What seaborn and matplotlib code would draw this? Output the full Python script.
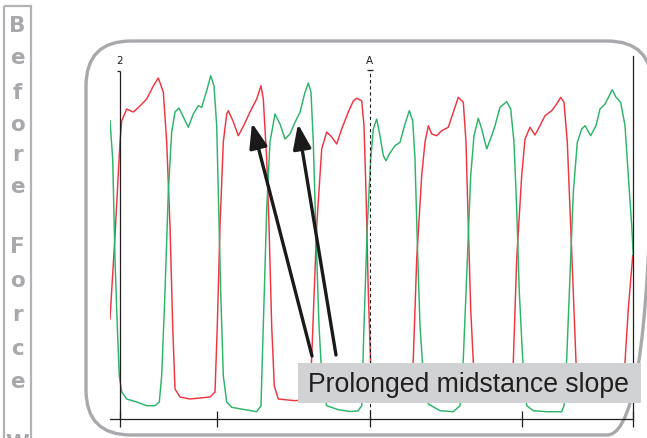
import numpy as np
import pandas as pd
import matplotlib
matplotlib.use("Agg")
import matplotlib.pyplot as plt
from matplotlib.patches import FancyBboxPatch, Rectangle
import seaborn as sns

# ---------------- data ----------------
# time axis positions (pixel-like time units) and vertical level (pixel rows, 420 = baseline)
red_t = [110, 115, 120, 121.7, 126.7, 133.3, 140, 146.7, 153.3, 158.3, 163.3, 166.7, 170, 172.7, 175,
         180, 190, 210, 215, 217.3, 220, 223.3, 226.7, 228.3, 233, 238.3, 244, 250, 256.7, 261, 263.3,
         266.7, 269, 271.7, 274.3, 278.3, 295, 310, 312.3, 316.7, 321.7, 326.7, 331.7, 336.7, 341.7,
         348.3, 353.3, 356.7, 361.7, 364, 366, 368.3, 370.7, 373, 380, 405, 411, 413.3, 416.7, 421.7,
         425, 428.3, 431.7, 436.7, 441.7, 448.3, 453.3, 458.3, 463.3, 466, 468.3, 470.7, 473.3, 476,
         485, 508, 511, 513.3, 516.7, 521.7, 525, 530, 535, 540, 545, 551.7, 556.7, 560.7, 564, 567.3,
         570, 573.3, 576, 579, 590, 620, 623, 625, 628.3, 632.7]
red_row = [320, 237, 143, 122, 110, 113, 107, 100, 87, 79, 93, 143, 227, 327, 390,
           398, 400, 398, 393, 327, 227, 143, 115, 111.7, 122, 136.7, 126, 113, 100, 86.7, 100,
           160, 227, 327, 387, 400, 401.7, 400, 343, 227, 150, 133, 138, 145, 130,
           113, 102, 99.3, 101.7, 126.7, 193, 293, 366.7, 398, 401, 401, 398, 360, 260, 176.7,
           143, 126.7, 135, 136.7, 131.7, 128.3, 113.3, 98.3, 103.3, 143, 226.7, 310, 363, 398,
           401, 401, 396, 363.3, 260, 176.7, 140, 128.3, 136, 126.7, 116.7, 111.7, 105, 98.3, 103.3, 143,
           210, 293, 363, 398, 401, 401, 396, 363, 310, 256.7]

green_t = [110, 112.7, 115, 117.3, 119.3, 121.7, 126.7, 136.7, 146.7, 155, 159.3, 161.7, 165, 168.3,
           171.7, 175, 179, 182.7, 188.3, 193.3, 198.3, 201.7, 206.7, 210.7, 214, 216.7, 218.3, 220.7,
           223.3, 226.7, 231.7, 245, 256.7, 261, 262.3, 264.3, 266.7, 270, 275, 280, 285, 290, 295, 300,
           305, 308.3, 311, 313.3, 315.7, 319, 322.3, 326.7, 338.3, 350, 358, 361.7, 364, 367.3, 370.7,
           373.3, 376.7, 380, 383.3, 386, 389.3, 395, 400, 405, 409.3, 412.7, 415, 417.3, 420, 424,
           428.3, 440, 453.3, 460, 463.3, 466.7, 470.7, 474, 478.3, 481.7, 486.7, 491.7, 495, 500,
           506.7, 510.7, 514, 516.7, 519.3, 522.7, 526.7, 533.3, 546.7, 561.7, 564, 566.7, 570, 573.3,
           577.3, 581.7, 585, 590.7, 596, 600, 605, 609.3, 612.3, 616, 620.7, 625, 628.3, 631.7, 633.3]
green_row = [121.7, 160, 260, 327, 377, 393, 400, 403, 406.7, 406.7, 403, 376.7, 293, 193,
             133, 113, 109, 116.7, 128.3, 115, 106.7, 108.3, 91.7, 76.7, 86.7, 126.7, 193, 293,
             376.7, 403, 408.3, 410.7, 412.7, 406.7, 360, 293, 210, 143, 115, 125, 140, 135, 123.3, 113.3,
             93.3, 84, 93.3, 143, 226.7, 326.7, 386.7, 406.7, 410.7, 412.5, 412, 406.7, 326.7, 226.7, 160,
             130, 120, 136.7, 156.7, 161.7, 155, 146.7, 143.3, 125, 111.7, 121.7, 160, 243.3, 326.7, 386.7,
             405, 411.7, 412.7, 406.7, 360, 276.7, 176.7, 136.7, 119.3, 130, 150, 136.7, 126.7, 108.3,
             102.7, 110, 143.3, 210, 293.3, 360, 406.7, 411.7, 412.7, 412.7, 406.7, 360, 276.7, 193.3,
             143.3, 130, 126.7, 136.7, 126.7, 110, 105, 96.7, 90.7, 98.3, 103.3, 126.7, 176.7, 226.7, 256.7]

tick_positions = [120, 217, 370, 522, 633]
marker_A = 370
channel_label = "2"
marker_label = "A"
annotation_text = "Prolonged midstance slope"
arrow_heads = [(252, 124), (298, 125)]
arrow_tails = [(312, 357), (336, 356)]
side_letters = ["B", "e", "f", "o", "r", "e", "F", "o", "r", "c", "e", "W"]
side_baselines = [32, 64, 99, 131, 161, 193, 253, 287, 321, 355, 388, 450]

BASE = 420
red_df = pd.DataFrame({"t": red_t, "level": BASE - np.array(red_row)})
green_df = pd.DataFrame({"t": green_t, "level": BASE - np.array(green_row)})

# ---------------- figure ----------------
W, H = 647, 439
fig = plt.figure(figsize=(W / 100, H / 100), dpi=100)
fig.patch.set_facecolor("white")

# background decorations (pixel coordinates)
bg = fig.add_axes([0, 0, 1, 1])
bg.set_xlim(0, W)
bg.set_ylim(H, 0)
bg.axis("off")
bg.add_patch(FancyBboxPatch((86, 42), 566, 394,
                            boxstyle="round,pad=0,rounding_size=45",
                            fc="none", ec="#a7a9ac", lw=2.4))
bg.add_patch(Rectangle((3.5, 7), 27.5, 450, fc="none", ec="#b1b3b6", lw=1.6))
for ch, yb in zip(side_letters, side_baselines):
    bg.text(17.5, yb, ch, ha="center", va="baseline", fontsize=15.5, fontweight="bold",
            color="#a7a9ac", family="DejaVu Sans")

# chart axes
x0, x1 = 110, 633
ytop = 57
ax = fig.add_axes([x0 / W, (H - BASE) / H, (x1 - x0) / W, (BASE - ytop) / H])
ax.patch.set_alpha(0)
ax.set_xlim(x0, x1)
ax.set_ylim(0, BASE - ytop)

sns.lineplot(data=red_df, x="t", y="level", ax=ax, color="#ee3540", lw=1.05,
             sort=False, estimator=None)
sns.lineplot(data=green_df, x="t", y="level", ax=ax, color="#2cb46a", lw=1.05,
             sort=False, estimator=None)

ink = "#231f20"
for s in ["top", "left"]:
    ax.spines[s].set_visible(False)
for s in ["bottom", "right"]:
    ax.spines[s].set_color(ink)
    ax.spines[s].set_linewidth(0.9)
ax.set_xticks(tick_positions)
ax.set_xticklabels([])
ax.set_yticks([])
ax.tick_params(axis="x", direction="inout", length=11, width=0.9, color=ink)
ax.set_xlabel("")
ax.set_ylabel("")

# left channel axis with cap and label
ax.vlines(120, 0, BASE - 72, color=ink, lw=0.9)
ax.hlines(BASE - 72, 117, 120, color=ink, lw=0.9)
ax.text(120, BASE - 66, channel_label, ha="center", va="bottom", fontsize=7.5, color=ink)

# marker A dashed line
ax.vlines(marker_A, 0, BASE - 71, color=ink, lw=0.8, linestyles=(0, (3, 2.5)))
ax.hlines(BASE - 71, marker_A - 3, marker_A + 3, color=ink, lw=0.9)
ax.text(marker_A - 1, BASE - 66, marker_label, ha="center", va="bottom", fontsize=7.5, color=ink)

# overlay: annotation box + arrows (pixel coordinates)
top = fig.add_axes([0, 0, 1, 1])
top.set_xlim(0, W)
top.set_ylim(H, 0)
top.axis("off")
top.patch.set_alpha(0)
top.add_patch(Rectangle((298, 364), 343, 40, fc="#d1d2d4", ec="none"))
top.text(308, 385, annotation_text, ha="left", va="center", fontsize=19.2,
         color=ink, family="Liberation Sans")
for head, tail in zip(arrow_heads, arrow_tails):
    top.annotate("", xy=head, xytext=tail,
                 arrowprops=dict(arrowstyle="-|>,head_length=1.5,head_width=0.55",
                                 mutation_scale=10, lw=2.4, color="#1a1a1a",
                                 shrinkA=0, shrinkB=0))

fig.savefig("out.png", dpi=100)
